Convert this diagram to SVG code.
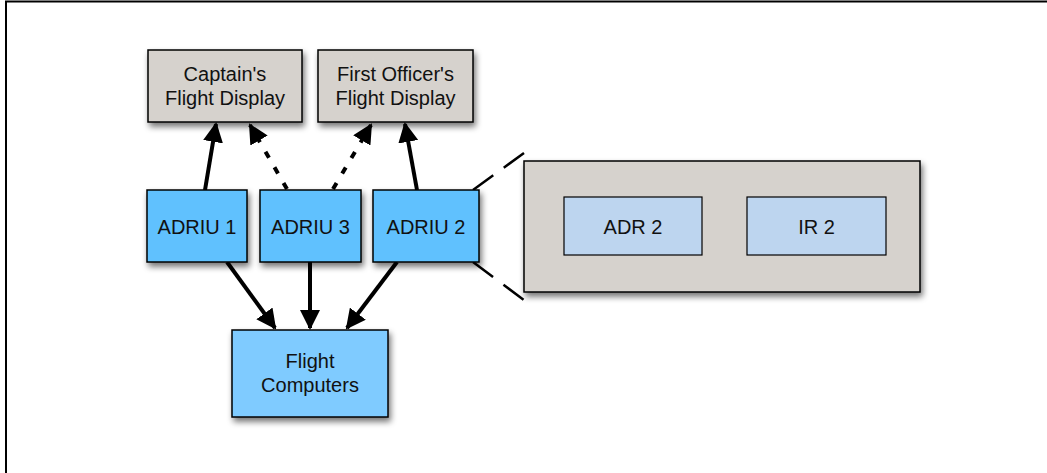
<svg xmlns="http://www.w3.org/2000/svg" width="1047" height="473" viewBox="0 0 1047 473">
<style>
.box{stroke:#000;stroke-width:1.5;filter:url(#sh)}
.gray{fill:#d6d2cd}
.blue{fill:#61c1fe}
.lblue{fill:#7fcbff}
.pale{fill:#bdd5ef}
.t{font-family:"Liberation Sans",Arial,sans-serif;font-size:20px;fill:#111;text-anchor:middle}
.c{stroke:#000;stroke-width:4;fill:none}
.d{stroke:#000;stroke-width:4;fill:none;stroke-dasharray:7 11}
.z{stroke:#000;stroke-width:2.5;fill:none;stroke-dasharray:25 13}
</style>
<defs>
<filter id="sh" x="-20%" y="-20%" width="150%" height="150%">
<feGaussianBlur in="SourceAlpha" stdDeviation="3"/>
<feOffset dx="2" dy="4" result="b"/>
<feComponentTransfer><feFuncA type="linear" slope="0.55"/></feComponentTransfer>
<feMerge><feMergeNode/><feMergeNode in="SourceGraphic"/></feMerge>
</filter>
<marker id="ah" viewBox="0 0 10 10" refX="9" refY="5" markerWidth="5" markerHeight="5" orient="auto" markerUnits="strokeWidth">
<path d="M0,0 L10,5 L0,10 z" fill="#000"/>
</marker>
</defs>
<rect x="0" y="0" width="1047" height="473" fill="#fff"/>
<path d="M6,473 V1.5 H1047" stroke="#000" stroke-width="2" fill="none"/>

<g id="connectors">
<line class="c" x1="205" y1="190" x2="216" y2="124" marker-end="url(#ah)"/>
<line class="d" x1="287" y1="189" x2="250" y2="125" marker-end="url(#ah)"/>
<line class="d" x1="333" y1="189" x2="371" y2="125" marker-end="url(#ah)"/>
<line class="c" x1="417" y1="190" x2="405" y2="124" marker-end="url(#ah)"/>
<line class="c" x1="227" y1="262" x2="275" y2="328" marker-end="url(#ah)"/>
<line class="c" x1="310" y1="262" x2="310" y2="328" marker-end="url(#ah)"/>
<line class="c" x1="397" y1="262" x2="347" y2="328" marker-end="url(#ah)"/>
<line class="z" x1="473" y1="190" x2="524" y2="153"/>
<line class="z" x1="473" y1="262" x2="524" y2="300"/>
</g>

<g id="captain">
<rect class="box gray" x="148" y="50" width="154" height="72"/>
<text class="t" x="225" y="81">Captain's</text>
<text class="t" x="225" y="105">Flight Display</text>
</g>
<g id="firstofficer">
<rect class="box gray" x="318" y="50" width="155" height="72"/>
<text class="t" x="395.5" y="81">First Officer's</text>
<text class="t" x="395.5" y="105">Flight Display</text>
</g>
<g id="adriu1">
<rect class="box blue" x="147" y="190" width="100" height="72"/>
<text class="t" x="197" y="234">ADRIU 1</text>
</g>
<g id="adriu3">
<rect class="box blue" x="260" y="190" width="101" height="72"/>
<text class="t" x="310.5" y="234">ADRIU 3</text>
</g>
<g id="adriu2">
<rect class="box blue" x="373" y="190" width="106" height="72"/>
<text class="t" x="426" y="234">ADRIU 2</text>
</g>
<g id="flightcomputers">
<rect class="box lblue" x="232" y="330" width="156" height="87"/>
<text class="t" x="310" y="368">Flight</text>
<text class="t" x="310" y="392">Computers</text>
</g>
<g id="adriu2detail">
<rect class="box gray" x="524" y="161" width="396" height="131"/>
</g>
<g id="adr2">
<rect x="564" y="197" width="138" height="58" class="pale" stroke="#000" stroke-width="1.2"/>
<text class="t" x="633" y="234">ADR 2</text>
</g>
<g id="ir2">
<rect x="747" y="197" width="139" height="58" class="pale" stroke="#000" stroke-width="1.2"/>
<text class="t" x="816.5" y="234">IR 2</text>
</g>
</svg>
